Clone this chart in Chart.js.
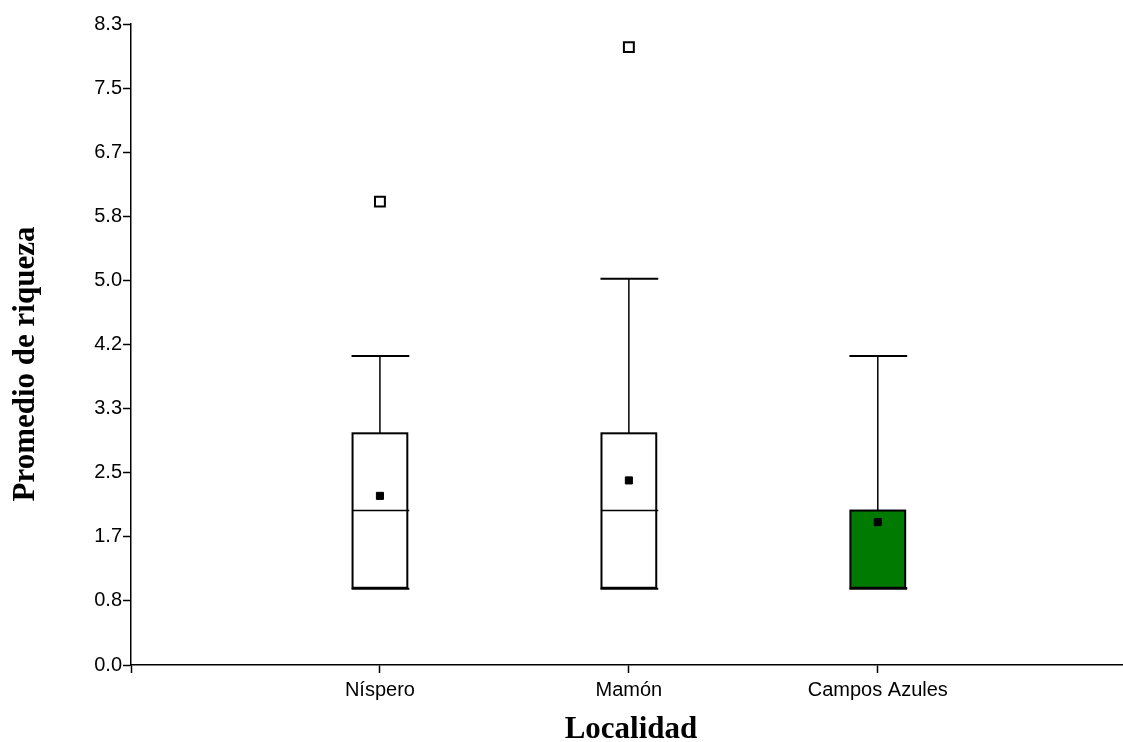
<!DOCTYPE html>
<html>
<head>
<meta charset="utf-8">
<script src="https://cdn.jsdelivr.net/npm/chart.js@4/dist/chart.umd.min.js"></script>
<style>
html,body{margin:0;padding:0;background:#fff;overflow:hidden;}
#wrap{width:1123px;height:742px;position:relative;}
canvas{display:block;}
</style>
</head>
<body>
<div id="wrap"><canvas id="c" width="1123" height="742"></canvas></div>
<script>
// ---- data ----
const categories = ['Níspero', 'Mamón', 'Campos Azules'];
const q1 = [1, 1, 1];
const q3 = [3, 3, 2];
const medians = [2, 2, 1];
const whiskerLow = [1, 1, 1];
const whiskerHigh = [4, 5, 4];
const means = [2.19, 2.39, 1.85];
const outliers = [[6], [8], []];
const boxColors = ['#ffffff', '#ffffff', '#007a00'];
const yTickValues = [0, 0.83, 1.66, 2.49, 3.32, 4.15, 4.98, 5.81, 6.64, 7.47, 8.3];
const yTickLabels = ['0.0', '0.8', '1.7', '2.5', '3.3', '4.2', '5.0', '5.8', '6.7', '7.5', '8.3'];
const xTitle = 'Localidad';
const yTitle = 'Promedio de riqueza';

const BOX_W = 0.22; // box width in category units

const meanPoints = means.map((m, i) => ({x: i + 1, y: m}));
const outlierPoints = [];
outliers.forEach((arr, i) => arr.forEach(v => outlierPoints.push({x: i + 1, y: v})));

const boxPlugin = {
  id: 'boxes',
  beforeDatasetsDraw(chart) {
    const xs = chart.scales.x, ys = chart.scales.y, ctx = chart.ctx;
    const half = (xs.getPixelForValue(1 + BOX_W / 2) - xs.getPixelForValue(1));
    ctx.save();
    ctx.strokeStyle = '#000';
    categories.forEach((c, i) => {
      const cx = xs.getPixelForValue(i + 1);
      const yq1 = ys.getPixelForValue(q1[i]);
      const yq3 = ys.getPixelForValue(q3[i]);
      const ylo = ys.getPixelForValue(whiskerLow[i]);
      const yhi = ys.getPixelForValue(whiskerHigh[i]);
      const ymed = ys.getPixelForValue(medians[i]);
      // whiskers
      ctx.lineWidth = 1.5;
      ctx.beginPath();
      ctx.moveTo(cx, yq3); ctx.lineTo(cx, yhi);
      ctx.moveTo(cx, yq1); ctx.lineTo(cx, ylo);
      ctx.stroke();
      // box
      ctx.fillStyle = boxColors[i];
      ctx.fillRect(cx - half, yq3, 2 * half, yq1 - yq3);
      ctx.lineWidth = 2;
      ctx.strokeRect(cx - half, yq3, 2 * half, yq1 - yq3);
      // caps
      ctx.lineWidth = 2;
      ctx.beginPath();
      ctx.moveTo(cx - half - 1, yhi); ctx.lineTo(cx + half + 2, yhi);
      ctx.moveTo(cx - half - 1, ylo + 1); ctx.lineTo(cx + half + 2, ylo + 1);
      ctx.stroke();
      // median
      ctx.lineWidth = 1.5;
      ctx.beginPath();
      ctx.moveTo(cx - half, ymed); ctx.lineTo(cx + half + 2, ymed);
      ctx.stroke();
    });
    ctx.restore();
  }
};

const titlePlugin = {
  id: 'axisTitles',
  afterDraw(chart) {
    const ctx = chart.ctx;
    ctx.save();
    ctx.fillStyle = '#000';
    ctx.font = 'bold 31px "Liberation Serif", "Times New Roman", serif';
    ctx.textAlign = 'center';
    ctx.textBaseline = 'alphabetic';
    ctx.fillText(xTitle, 631, 738);
    ctx.translate(34, 364);
    ctx.rotate(-Math.PI / 2);
    ctx.fillText(yTitle, 0, 0);
    ctx.restore();
  }
};

const tickFont = {family: '"Liberation Sans", Arial, sans-serif', size: 20};

new Chart(document.getElementById('c'), {
  type: 'scatter',
  data: {
    datasets: [
      {
        label: 'Media',
        data: meanPoints,
        pointStyle: 'rect',
        pointRadius: 5,
        backgroundColor: '#000',
        borderColor: '#000',
        borderWidth: 1
      },
      {
        label: 'Atípicos',
        data: outlierPoints,
        pointStyle: 'rect',
        pointRadius: 7,
        backgroundColor: '#fff',
        borderColor: '#000',
        borderWidth: 2
      }
    ]
  },
  options: {
    responsive: false,
    animation: false,
    events: [],
    layout: {autoPadding: false, padding: {top: 24, right: 0, bottom: 0, left: 0}},
    plugins: {legend: {display: false}, tooltip: {enabled: false}},
    scales: {
      x: {
        type: 'linear',
        min: 0,
        max: 3.985,
        afterFit(s) { s.height = 77; s.paddingRight = 0; s.paddingLeft = 0; },
        afterBuildTicks(s) { s.ticks = [0, 1, 2, 3].map(v => ({value: v})); },
        ticks: {
          color: '#000',
          font: tickFont,
          padding: 5,
          maxRotation: 0,
          autoSkip: false,
          callback(v) { return v >= 1 ? categories[v - 1] : ''; }
        },
        grid: {drawOnChartArea: false, drawTicks: true, tickLength: 8, color: '#000', tickWidth: 1.5},
        border: {color: '#000', width: 1.5}
      },
      y: {
        type: 'linear',
        min: 0,
        max: 8.3,
        afterFit(s) { s.width = 131; },
        afterBuildTicks(s) { s.ticks = yTickValues.map(v => ({value: v})); },
        ticks: {
          color: '#000',
          font: tickFont,
          padding: 1,
          autoSkip: false,
          callback(v, idx) { return yTickLabels[idx]; }
        },
        grid: {drawOnChartArea: false, drawTicks: true, tickLength: 8, color: '#000', tickWidth: 1.5},
        border: {color: '#000', width: 1.5}
      }
    }
  },
  plugins: [boxPlugin, titlePlugin]
});
</script>
</body>
</html>
